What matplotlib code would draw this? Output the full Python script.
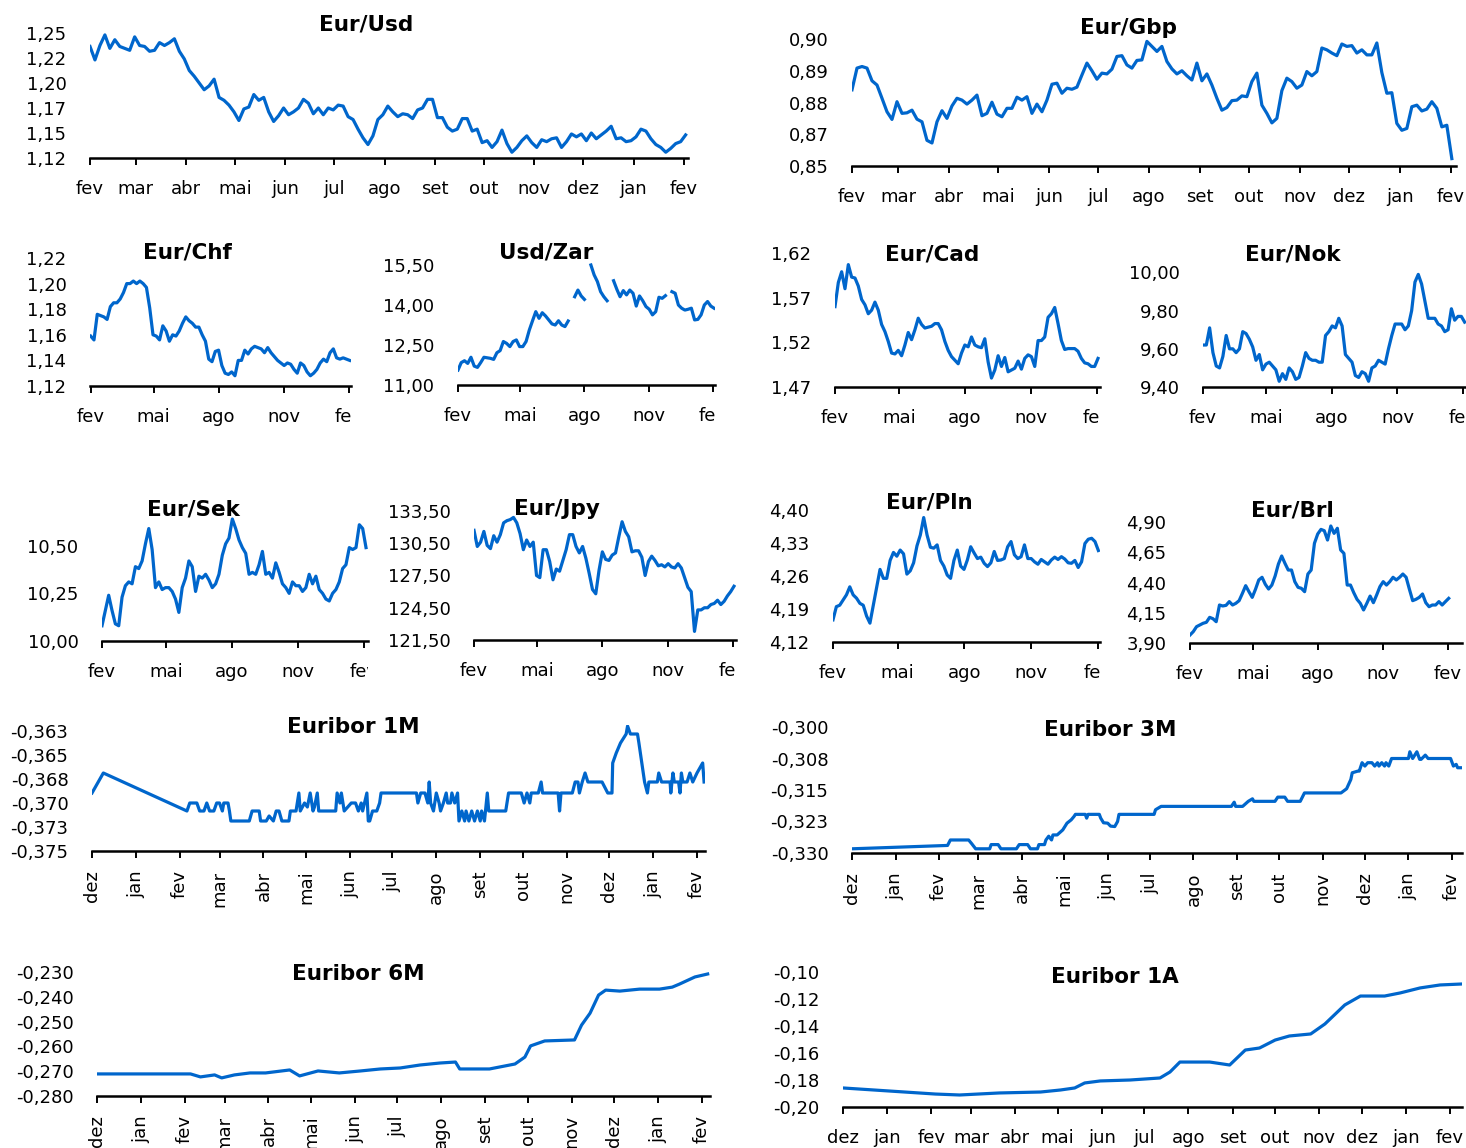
import numpy as np
import matplotlib
matplotlib.use("Agg")
import matplotlib.pyplot as plt
from matplotlib.transforms import Bbox, TransformedBbox

W, H = 1466, 1148
BLUE = "#0066CC"

# ---- eixos de datas (dias desde o primeiro tick) ----
fx_month_days = [0, 28, 59, 89, 120, 150, 181, 212, 242, 273, 303, 334, 365]
fx_month_labels = ["fev", "mar", "abr", "mai", "jun", "jul", "ago", "set", "out", "nov", "dez", "jan", "fev"]
fx_quarter_days = [0, 89, 181, 273, 365]
fx_quarter_labels = ["fev", "mai", "ago", "nov", "fev"]
eur_month_days = [0, 31, 62, 90, 121, 151, 182, 212, 243, 274, 304, 335, 365, 396, 427]
eur_month_labels = ["dez", "jan", "fev", "mar", "abr", "mai", "jun", "jul", "ago", "set", "out", "nov", "dez", "jan", "fev"]

# ---- cambios (espacamento regular) ----
eurusd = [1.236, 1.222, 1.237, 1.248, 1.234, 1.243, 1.236, 1.234, 1.232, 1.246, 1.237, 1.236, 1.231, 1.232,
          1.240, 1.237, 1.240, 1.244, 1.231, 1.223, 1.211, 1.205, 1.198, 1.191, 1.195, 1.202, 1.183, 1.180,
          1.175, 1.168, 1.159, 1.171, 1.173, 1.186, 1.180, 1.183, 1.168, 1.158, 1.164, 1.172, 1.165, 1.168,
          1.172, 1.181, 1.177, 1.166, 1.172, 1.165, 1.172, 1.170, 1.175, 1.174, 1.163, 1.160, 1.150, 1.141,
          1.134, 1.143, 1.160, 1.165, 1.174, 1.168, 1.163, 1.166, 1.165, 1.161, 1.170, 1.172, 1.181, 1.181,
          1.162, 1.162, 1.152, 1.148, 1.150, 1.161, 1.161, 1.148, 1.150, 1.136, 1.138, 1.131, 1.137, 1.149,
          1.135, 1.126, 1.131, 1.138, 1.143, 1.136, 1.131, 1.139, 1.137, 1.140, 1.141, 1.131, 1.137, 1.145,
          1.142, 1.145, 1.138, 1.146, 1.140, 1.144, 1.148, 1.153, 1.140, 1.141, 1.137, 1.138, 1.142, 1.150,
          1.148, 1.140, 1.134, 1.131, 1.126, 1.130, 1.135, 1.137, 1.144]
eurgbp = [0.8828, 0.8910, 0.8916, 0.8910, 0.8862, 0.8846, 0.8796, 0.8745, 0.8716, 0.8783, 0.8739, 0.8741,
          0.8751, 0.8717, 0.8707, 0.8637, 0.8627, 0.8707, 0.8749, 0.8720, 0.8767, 0.8796, 0.8789, 0.8774,
          0.8789, 0.8808, 0.8730, 0.8739, 0.8781, 0.8736, 0.8726, 0.8758, 0.8758, 0.8800, 0.8789, 0.8802,
          0.8739, 0.8774, 0.8745, 0.8789, 0.8849, 0.8853, 0.8815, 0.8834, 0.8830, 0.8838, 0.8884, 0.8929,
          0.8900, 0.8868, 0.8891, 0.8888, 0.8906, 0.8954, 0.8957, 0.8922, 0.8910, 0.8939, 0.8941, 0.9011,
          0.8992, 0.8973, 0.8992, 0.8935, 0.8907, 0.8888, 0.8900, 0.8881, 0.8865, 0.8929, 0.8862, 0.8888,
          0.8846, 0.8796, 0.8751, 0.8761, 0.8787, 0.8789, 0.8805, 0.8802, 0.8859, 0.8891, 0.8770, 0.8739,
          0.8703, 0.8720, 0.8825, 0.8872, 0.8859, 0.8834, 0.8846, 0.8897, 0.8881, 0.8897, 0.8986, 0.8979,
          0.8967, 0.8957, 0.9001, 0.8992, 0.8995, 0.8967, 0.8979, 0.8960, 0.8960, 0.9005, 0.8893, 0.8815,
          0.8817, 0.8701, 0.8675, 0.8682, 0.8764, 0.8770, 0.8748, 0.8755, 0.8783, 0.8758, 0.8688, 0.8694,
          0.8568]
eurchf = [1.159, 1.156, 1.176, 1.175, 1.174, 1.172, 1.182, 1.185, 1.185, 1.188, 1.193, 1.200, 1.200, 1.202,
          1.200, 1.202, 1.200, 1.197, 1.181, 1.160, 1.159, 1.156, 1.167, 1.163, 1.155, 1.160, 1.159, 1.163,
          1.169, 1.174, 1.171, 1.169, 1.166, 1.166, 1.160, 1.155, 1.141, 1.139, 1.147, 1.148, 1.136, 1.130,
          1.129, 1.131, 1.128, 1.140, 1.140, 1.148, 1.145, 1.149, 1.151, 1.150, 1.149, 1.146, 1.150, 1.146,
          1.143, 1.140, 1.138, 1.136, 1.138, 1.137, 1.133, 1.130, 1.138, 1.136, 1.131, 1.128, 1.130, 1.133,
          1.138, 1.141, 1.139, 1.146, 1.149, 1.142, 1.141, 1.142, 1.141, 1.140]
usdzar = [11.56, 11.84, 11.91, 11.81, 12.04, 11.71, 11.66, 11.84, 12.04, 12.02, 12.00, 11.96, 12.21, 12.29,
          12.63, 12.56, 12.44, 12.63, 12.69, 12.44, 12.44, 12.63, 13.06, 13.41, 13.75, 13.50, 13.71, 13.59,
          13.44, 13.29, 13.25, 13.41, 13.25, 13.19, 13.40, np.nan, 14.31, 14.56, 14.34, 14.21, np.nan, 15.50,
          15.13, 14.88, 14.50, 14.31, 14.16, np.nan, 14.91, 14.59, 14.31, 14.54, 14.38, 14.56, 14.44, 13.96,
          14.34, 14.16, 13.94, 13.84, 13.63, 13.75, 14.29, 14.25, 14.35, np.nan, 14.50, 14.44, 14.00, 13.88,
          13.81, 13.84, 13.88, 13.44, 13.46, 13.63, 14.00, 14.13, 13.96, 13.88]
eurcad = [1.560, 1.587, 1.599, 1.580, 1.607, 1.593, 1.592, 1.583, 1.568, 1.562, 1.552, 1.556, 1.565, 1.556,
          1.540, 1.532, 1.521, 1.508, 1.507, 1.511, 1.505, 1.517, 1.531, 1.523, 1.534, 1.547, 1.540, 1.536,
          1.537, 1.538, 1.541, 1.541, 1.534, 1.521, 1.511, 1.504, 1.500, 1.496, 1.508, 1.517, 1.515, 1.526,
          1.517, 1.515, 1.514, 1.524, 1.498, 1.480, 1.489, 1.505, 1.493, 1.503, 1.487, 1.489, 1.491, 1.499,
          1.490, 1.502, 1.506, 1.504, 1.493, 1.522, 1.522, 1.526, 1.548, 1.552, 1.559, 1.541, 1.522, 1.512,
          1.513, 1.513, 1.513, 1.510, 1.502, 1.497, 1.496, 1.493, 1.493, 1.502]
eurnok = [9.62, 9.62, 9.71, 9.58, 9.51, 9.50, 9.56, 9.67, 9.60, 9.60, 9.58, 9.60, 9.69, 9.68, 9.65, 9.61,
          9.54, 9.57, 9.49, 9.52, 9.53, 9.51, 9.49, 9.43, 9.47, 9.44, 9.50, 9.48, 9.44, 9.45, 9.51, 9.58,
          9.55, 9.54, 9.54, 9.53, 9.53, 9.67, 9.69, 9.72, 9.71, 9.76, 9.72, 9.57, 9.55, 9.53, 9.46, 9.45,
          9.48, 9.47, 9.43, 9.50, 9.51, 9.54, 9.53, 9.52, 9.60, 9.67, 9.73, 9.73, 9.73, 9.70, 9.72, 9.80,
          9.95, 9.99, 9.94, 9.85, 9.76, 9.76, 9.76, 9.73, 9.72, 9.69, 9.70, 9.81, 9.75, 9.77, 9.77, 9.74]
eursek = [10.08, 10.16, 10.24, 10.16, 10.09, 10.08, 10.23, 10.29, 10.31, 10.30, 10.39, 10.38, 10.42, 10.51,
          10.59, 10.48, 10.28, 10.31, 10.27, 10.28, 10.28, 10.26, 10.22, 10.15, 10.28, 10.33, 10.42, 10.39,
          10.26, 10.34, 10.33, 10.35, 10.32, 10.28, 10.30, 10.35, 10.45, 10.51, 10.54, 10.64, 10.59, 10.53,
          10.49, 10.46, 10.35, 10.36, 10.35, 10.40, 10.47, 10.35, 10.36, 10.33, 10.41, 10.36, 10.30, 10.28,
          10.25, 10.31, 10.29, 10.29, 10.26, 10.28, 10.35, 10.30, 10.34, 10.27, 10.25, 10.22, 10.21, 10.25,
          10.27, 10.31, 10.38, 10.40, 10.49, 10.48, 10.49, 10.61, 10.59, 10.49]
eurjpy = [131.7, 130.2, 130.6, 131.6, 130.3, 130.0, 131.2, 130.6, 131.3, 132.4, 132.6, 132.7, 132.9, 132.4,
          131.4, 129.9, 130.8, 130.2, 130.6, 127.5, 127.3, 129.9, 129.9, 128.8, 127.1, 128.1, 127.9, 128.9,
          129.9, 131.3, 131.3, 130.2, 129.6, 130.2, 129.1, 127.7, 126.2, 125.8, 128.0, 129.7, 129.0, 128.9,
          129.4, 129.6, 131.1, 132.5, 131.6, 131.1, 129.7, 129.8, 129.8, 129.2, 127.5, 128.8, 129.3, 128.9,
          128.4, 128.5, 128.3, 128.6, 128.3, 128.2, 128.6, 128.2, 127.3, 126.4, 126.0, 122.3, 124.3, 124.3,
          124.5, 124.5, 124.8, 124.9, 125.2, 124.8, 125.1, 125.6, 126.0, 126.5]
eurpln = [4.167, 4.195, 4.198, 4.209, 4.220, 4.237, 4.220, 4.213, 4.202, 4.198, 4.175, 4.160, 4.198, 4.236,
          4.274, 4.255, 4.255, 4.293, 4.310, 4.302, 4.315, 4.307, 4.264, 4.271, 4.288, 4.324, 4.347, 4.384,
          4.347, 4.321, 4.319, 4.326, 4.293, 4.281, 4.262, 4.255, 4.293, 4.315, 4.281, 4.274, 4.294, 4.322,
          4.309, 4.297, 4.300, 4.287, 4.280, 4.288, 4.312, 4.293, 4.294, 4.297, 4.322, 4.333, 4.305, 4.297,
          4.301, 4.326, 4.297, 4.297, 4.290, 4.285, 4.295, 4.290, 4.285, 4.294, 4.300, 4.295, 4.301, 4.296,
          4.288, 4.287, 4.293, 4.278, 4.290, 4.329, 4.338, 4.340, 4.333, 4.314]
eurbrl = [3.966, 3.994, 4.035, 4.049, 4.063, 4.071, 4.112, 4.101, 4.076, 4.214, 4.206, 4.211, 4.242, 4.214,
          4.228, 4.250, 4.310, 4.374, 4.324, 4.277, 4.344, 4.421, 4.443, 4.385, 4.346, 4.379, 4.454, 4.553,
          4.619, 4.558, 4.503, 4.503, 4.407, 4.360, 4.352, 4.324, 4.470, 4.503, 4.724, 4.801, 4.839, 4.828,
          4.751, 4.867, 4.806, 4.848, 4.669, 4.641, 4.379, 4.379, 4.316, 4.261, 4.228, 4.173, 4.228, 4.288,
          4.233, 4.297, 4.366, 4.407, 4.379, 4.407, 4.443, 4.421, 4.443, 4.470, 4.443, 4.344, 4.250, 4.261,
          4.277, 4.305, 4.233, 4.200, 4.214, 4.214, 4.242, 4.214, 4.242, 4.269]
# ultimo dia de cada serie (dias desde fev)
fx_last_day = {"usd": 366, "gbp": 365.5, "chf": 366, "zar": 366.5, "cad": 366.4, "nok": 367.3,
               "sek": 367.8, "jpy": 366.4, "pln": 365.5, "brl": 366}

# ---- Euribor (dias desde 1 dez, taxa) ----
e1m_days = [0, 8, 67, 69, 74, 76, 79, 81, 83, 86, 88, 90, 92, 93, 96, 97, 98, 111, 113, 118, 119, 123, 125,
            128, 130, 132, 134, 139, 140, 144, 146, 147, 150, 152, 154, 156, 157, 159, 160, 163, 172, 173,
            175, 176, 178, 183, 186, 188, 190, 191, 194, 195, 196, 198, 201, 203, 204, 229, 230, 232, 235,
            237, 238, 239, 241, 243, 245, 246, 248, 250, 251, 253, 254, 256, 258, 259, 261, 263, 264, 266,
            268, 270, 272, 274, 275, 277, 279, 280, 282, 292, 294, 303, 305, 307, 309, 310, 315, 317, 318,
            329, 330, 331, 339, 341, 343, 344, 346, 348, 350, 360, 364, 367, 367.5, 370, 373, 377, 378, 380,
            385, 386, 390, 392, 393, 399, 400, 402, 408, 408.5, 410, 411, 414, 415, 416, 417, 420, 422, 424,
            427, 431, 432]
e1m_vals = [-0.3692, -0.3672, -0.3710, -0.3702, -0.3702, -0.3710, -0.3710, -0.3702, -0.3710, -0.3710,
            -0.3702, -0.3702, -0.3710, -0.3702, -0.3702, -0.3710, -0.3720, -0.3720, -0.3710, -0.3710,
            -0.3720, -0.3720, -0.3715, -0.3720, -0.3710, -0.3710, -0.3720, -0.3720, -0.3710, -0.3710,
            -0.3692, -0.3710, -0.3702, -0.3706, -0.3692, -0.3710, -0.3706, -0.3692, -0.3710, -0.3710,
            -0.3710, -0.3692, -0.3702, -0.3692, -0.3710, -0.3702, -0.3702, -0.3710, -0.3702, -0.3710,
            -0.3692, -0.3720, -0.3720, -0.3710, -0.3710, -0.3702, -0.3692, -0.3692, -0.3702, -0.3692,
            -0.3692, -0.3702, -0.3681, -0.3702, -0.3710, -0.3692, -0.3702, -0.3710, -0.3702, -0.3692,
            -0.3702, -0.3702, -0.3692, -0.3702, -0.3692, -0.3720, -0.3710, -0.3720, -0.3710, -0.3720,
            -0.3710, -0.3720, -0.3710, -0.3720, -0.3710, -0.3720, -0.3692, -0.3710, -0.3710, -0.3710,
            -0.3692, -0.3692, -0.3702, -0.3692, -0.3702, -0.3692, -0.3692, -0.3681, -0.3692, -0.3692,
            -0.3710, -0.3692, -0.3692, -0.3681, -0.3681, -0.3692, -0.3681, -0.3672, -0.3681, -0.3681,
            -0.3692, -0.3692, -0.3662, -0.3652, -0.3642, -0.3633, -0.3625, -0.3633, -0.3633, -0.3642,
            -0.3681, -0.3692, -0.3681, -0.3681, -0.3672, -0.3681, -0.3681, -0.3692, -0.3672, -0.3681,
            -0.3681, -0.3692, -0.3672, -0.3681, -0.3681, -0.3672, -0.3681, -0.3672, -0.3662, -0.3681]
e3m_days = [0, 68, 70, 83, 85, 88, 98, 99, 104, 106, 117, 119, 125, 127, 132, 133, 137, 138, 140, 142, 143,
            146, 150, 153, 156, 158, 159, 166, 167, 168, 176, 177, 179, 182, 184, 187, 189, 190, 215, 216,
            220, 270, 272, 273, 278, 282, 285, 286, 301, 303, 308, 310, 319, 322, 348, 352, 355, 356, 360,
            361, 363, 365, 367, 370, 372, 374, 375, 377, 379, 380, 382, 384, 396, 397, 399, 402, 404, 405,
            408, 410, 426, 428, 430, 431, 433]
e3m_vals = [-0.3290, -0.3282, -0.3269, -0.3269, -0.3277, -0.3290, -0.3290, -0.3280, -0.3280, -0.3290,
            -0.3290, -0.3280, -0.3280, -0.3290, -0.3290, -0.3280, -0.3280, -0.3269, -0.3260, -0.3269,
            -0.3257, -0.3257, -0.3245, -0.3229, -0.3221, -0.3213, -0.3208, -0.3208, -0.3217, -0.3208,
            -0.3208, -0.3217, -0.3228, -0.3229, -0.3236, -0.3237, -0.3225, -0.3208, -0.3208, -0.3197,
            -0.3189, -0.3189, -0.3179, -0.3189, -0.3189, -0.3177, -0.3171, -0.3177, -0.3177, -0.3167,
            -0.3167, -0.3177, -0.3177, -0.3157, -0.3157, -0.3147, -0.3125, -0.3109, -0.3105, -0.3105,
            -0.3085, -0.3093, -0.3085, -0.3085, -0.3093, -0.3085, -0.3093, -0.3085, -0.3093, -0.3085,
            -0.3093, -0.3075, -0.3075, -0.3059, -0.3075, -0.3059, -0.3077, -0.3077, -0.3067, -0.3075,
            -0.3075, -0.3093, -0.3089, -0.3097, -0.3097]
e6m_days = [0, 66, 73, 83, 88, 97, 108, 119, 136, 143, 156, 171, 186, 200, 214, 228, 242, 253, 256, 277,
            295, 302, 306, 316, 337, 342, 348, 354, 359, 369, 383, 397, 406, 411, 422, 431]
e6m_vals = [-0.2711, -0.2711, -0.2723, -0.2715, -0.2727, -0.2715, -0.2707, -0.2707, -0.2695, -0.2719,
            -0.2699, -0.2707, -0.2699, -0.2691, -0.2687, -0.2675, -0.2667, -0.2663, -0.2691, -0.2691,
            -0.2671, -0.2643, -0.2598, -0.2578, -0.2574, -0.2514, -0.2466, -0.2393, -0.2373, -0.2377,
            -0.2369, -0.2369, -0.2361, -0.2349, -0.2320, -0.2308]
e1a_days = [0, 65, 82, 110, 139, 153, 163, 170, 181, 202, 223, 230, 237, 258, 272, 283, 293, 304, 314, 329,
            339, 353, 364, 381, 392, 406, 420, 435]
e1a_vals = [-0.1859, -0.1904, -0.1911, -0.1896, -0.1889, -0.1874, -0.1859, -0.1822, -0.1807, -0.1800,
            -0.1785, -0.1741, -0.1667, -0.1667, -0.1689, -0.1578, -0.1563, -0.1504, -0.1474, -0.1459,
            -0.1385, -0.1244, -0.1178, -0.1178, -0.1155, -0.1118, -0.1096, -0.1089]

fig = plt.figure(figsize=(W / 100, H / 100), dpi=100)


def panel(title, title_xy, xs, ys, px_lr, px_days, day_n, px_y, y_ticks, y_labels, y_top,
          x_ticks, x_labels, rot=0, clip_right=None):
    left, right = px_lr
    d0_px, dn_px = px_days
    bottom_px, toptick_px = px_y
    ppd = (dn_px - d0_px) / day_n
    ppv = (bottom_px - toptick_px) / (y_ticks[-1] - y_ticks[0])
    top_px = bottom_px - (y_top - y_ticks[0]) * ppv
    ax = fig.add_axes([left / W, 1 - bottom_px / H, (right - left) / W, (bottom_px - top_px) / H])
    ax.plot(xs, ys, color=BLUE, lw=2.3, solid_joinstyle="round")
    ax.set_xlim((left - d0_px) / ppd, (right - d0_px) / ppd)
    ax.set_ylim(y_ticks[0], y_top)
    for s in ["top", "right", "left"]:
        ax.spines[s].set_visible(False)
    ax.spines["bottom"].set_linewidth(1.8)
    ax.set_yticks(y_ticks)
    ax.set_yticklabels(y_labels)
    ax.set_xticks(x_ticks)
    ax.set_xticklabels(x_labels, rotation=rot)
    ax.tick_params(axis="y", length=0, pad=17, labelsize=13)
    ax.tick_params(axis="x", direction="out", length=5, width=1.4, labelsize=13,
                   pad=9 if rot else 11)
    ax.patch.set_alpha(0)
    if clip_right is not None:
        cb = TransformedBbox(Bbox.from_extents(0, 0, clip_right / W, 1), fig.transFigure)
        for t in ax.xaxis.get_major_ticks():
            t.label1.set_clip_box(cb)
            t.label1.set_clip_on(True)
    fig.text(title_xy[0] / W, 1 - title_xy[1] / H, title, ha="center", va="center",
             fontsize=15.5, fontweight="bold")
    return ax


def fx_x(vals, key):
    return np.linspace(0, fx_last_day[key], len(vals))


# linha 1
panel("Eur/Usd", (366, 25), fx_x(eurusd, "usd"), eurusd, (90, 688), (90, 684), 365, (158, 33),
      [1.12, 1.146, 1.172, 1.198, 1.224, 1.25], ["1,12", "1,15", "1,17", "1,20", "1,22", "1,25"], 1.252,
      fx_month_days, fx_month_labels)
panel("Eur/Gbp", (1128, 28), fx_x(eurgbp, "gbp"), eurgbp, (852, 1456), (852, 1451), 365, (166, 39),
      [0.854, 0.866, 0.878, 0.890, 0.902], ["0,85", "0,87", "0,88", "0,89", "0,90"], 0.905,
      fx_month_days, fx_month_labels)

# linha 2
panel("Eur/Chf", (187, 253), fx_x(eurchf, "chf"), eurchf, (90, 351), (90.7, 349), 365, (386, 258),
      [1.12, 1.14, 1.16, 1.18, 1.20, 1.22], ["1,12", "1,14", "1,16", "1,18", "1,20", "1,22"], 1.22,
      fx_quarter_days, fx_quarter_labels, clip_right=351)
panel("Usd/Zar", (546, 253), fx_x(usdzar, "zar"), usdzar, (458, 715), (458, 713), 365, (385, 265),
      [11.0, 12.5, 14.0, 15.5], ["11,00", "12,50", "14,00", "15,50"], 15.6,
      fx_quarter_days, fx_quarter_labels, clip_right=715)
panel("Eur/Cad", (932, 255), fx_x(eurcad, "cad"), eurcad, (835, 1100), (835, 1097), 365, (387, 253),
      [1.47, 1.52, 1.57, 1.62], ["1,47", "1,52", "1,57", "1,62"], 1.62,
      fx_quarter_days, fx_quarter_labels, clip_right=1100)
panel("Eur/Nok", (1293, 255), fx_x(eurnok, "nok"), eurnok, (1203, 1466), (1203, 1463), 365, (387, 272.5),
      [9.4, 9.6, 9.8, 10.0], ["9,40", "9,60", "9,80", "10,00"], 10.02,
      fx_quarter_days, fx_quarter_labels, clip_right=1466)

# linha 3
panel("Eur/Sek", (193, 509), fx_x(eursek, "sek"), eursek, (102, 368), (102, 364), 365, (641, 545.7),
      [10.0, 10.25, 10.5], ["10,00", "10,25", "10,50"], 10.7,
      fx_quarter_days, fx_quarter_labels, clip_right=368)
panel("Eur/Jpy", (557, 509), fx_x(eurjpy, "jpy"), eurjpy, (474, 736), (474, 733), 365, (640, 511),
      [121.5, 124.5, 127.5, 130.5, 133.5], ["121,50", "124,50", "127,50", "130,50", "133,50"], 133.5,
      fx_quarter_days, fx_quarter_labels, clip_right=736)
panel("Eur/Pln", (929, 503), fx_x(eurpln, "pln"), eurpln, (833, 1100), (833, 1098), 365, (642, 510),
      [4.12, 4.19, 4.26, 4.33, 4.40], ["4,12", "4,19", "4,26", "4,33", "4,40"], 4.40,
      fx_quarter_days, fx_quarter_labels, clip_right=1100)
panel("Eur/Brl", (1292, 510), fx_x(eurbrl, "brl"), eurbrl, (1190, 1462), (1190, 1448), 365, (643, 522),
      [3.90, 4.15, 4.40, 4.65, 4.90], ["3,90", "4,15", "4,40", "4,65", "4,90"], 4.90,
      fx_quarter_days, fx_quarter_labels, clip_right=1466)

# Euribor
panel("Euribor 1M", (353, 727), e1m_days, e1m_vals, (92, 705), (92, 697), 427, (851, 731),
      list(np.linspace(-0.375, -0.363, 6)), ["-0,375", "-0,373", "-0,370", "-0,368", "-0,365", "-0,363"],
      -0.3624, eur_month_days, eur_month_labels, rot=90)
panel("Euribor 3M", (1110, 730), e3m_days, e3m_vals, (852, 1462), (852, 1452), 427, (853, 727),
      list(np.linspace(-0.33, -0.30, 5)), ["-0,330", "-0,323", "-0,315", "-0,308", "-0,300"],
      -0.300, eur_month_days, eur_month_labels, rot=90)
panel("Euribor 6M", (358, 974), e6m_days, e6m_vals, (97, 710), (97, 702), 427, (1096, 972),
      list(np.linspace(-0.28, -0.23, 6)), ["-0,280", "-0,270", "-0,260", "-0,250", "-0,240", "-0,230"],
      -0.23, eur_month_days, eur_month_labels, rot=90)
panel("Euribor 1A", (1115, 977), e1a_days, e1a_vals, (843, 1462), (843, 1450), 427, (1107, 972),
      list(np.linspace(-0.20, -0.10, 6)), ["-0,20", "-0,18", "-0,16", "-0,14", "-0,12", "-0,10"],
      -0.10, eur_month_days, eur_month_labels)

fig.savefig("out.png", dpi=100)
